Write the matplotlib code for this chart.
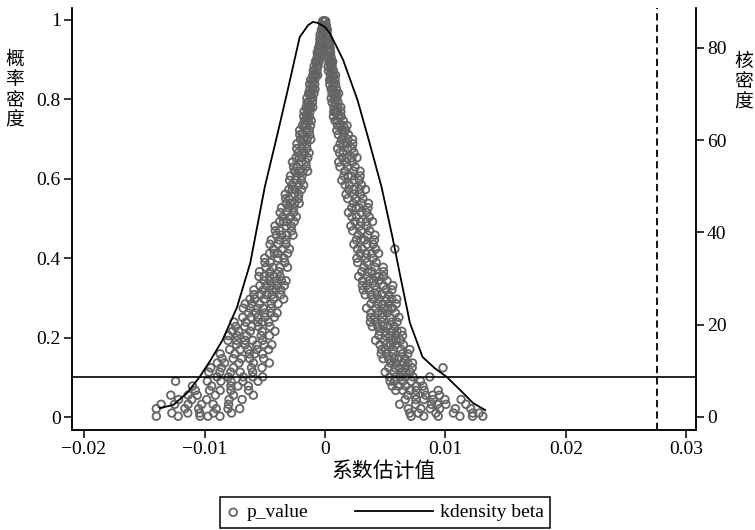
import numpy as np
import matplotlib
matplotlib.use('Agg')
import matplotlib.pyplot as plt
from matplotlib.lines import Line2D
from matplotlib.legend_handler import HandlerBase

plt.rcParams['font.family'] = ['Liberation Serif', 'Noto Sans CJK SC']
CJK = ['Noto Sans CJK SC', 'DejaVu Sans']

# placebo regressions: p-value of each estimate, grouped in thin p bands
# coefficient estimates are stored in units of 1e-4
p_band = [0.997, 0.986, 0.975, 0.963, 0.952, 0.941, 0.929, 0.918, 0.906, 0.895,
          0.883, 0.872, 0.861, 0.849, 0.838, 0.826, 0.815, 0.803, 0.792, 0.780,
          0.769, 0.757, 0.746, 0.734, 0.722, 0.711, 0.699, 0.688, 0.676, 0.665,
          0.653, 0.642, 0.630, 0.619, 0.607, 0.596, 0.584, 0.573, 0.561, 0.550,
          0.538, 0.527, 0.515, 0.504, 0.492, 0.481, 0.469, 0.458, 0.446, 0.435,
          0.423, 0.412, 0.400, 0.389, 0.377, 0.366, 0.354, 0.343, 0.331, 0.320,
          0.308, 0.297, 0.285, 0.274, 0.262, 0.251, 0.239, 0.228, 0.216, 0.205,
          0.193, 0.182, 0.170, 0.159, 0.147, 0.136, 0.124, 0.113, 0.101, 0.090,
          0.078, 0.067, 0.055, 0.044, 0.032, 0.021, 0.010, 0.002]

beta_left = [
    [-1.9, -1.2, -0.5], [-2.0, -1.2, -0.6], [-3.0, -2.0, -0.8, -2.5],
    [-4.0, -2.4, -1.6], [-3.6, -2.0, -4.2], [-2.1, -3.7, -4.4, -2.9],
    [-4.3, -3.4, -5.4], [-6.4, -5.3, -4.3], [-6.5, -4.9, -3.7],
    [-7.9, -6.5, -4.9, -7.1], [-9.0, -6.8, -5.8], [-8.8, -6.6, -9.6],
    [-6.1, -8.8, -10.0, -7.5], [-10.0, -8.5, -11.9], [-12.7, -10.6, -8.5],
    [-12.5, -10.1, -8.3], [-13.6, -11.5, -9.1, -12.4], [-15.0, -11.7, -10.2],
    [-13.7, -10.4, -14.9], [-10.2, -13.9, -15.6, -12.1], [-14.7, -12.6, -17.3],
    [-17.7, -15.2, -12.8], [-17.0, -13.8, -11.4], [-18.7, -15.5, -11.9, -16.9],
    [-21.0, -15.5, -13.0], [-18.7, -12.7, -20.9], [-11.8, -17.6, -20.3, -14.8],
    [-18.7, -15.1, -23.2], [-23.4, -19.2, -15.0], [-22.3, -17.1, -13.2],
    [-24.1, -19.5, -14.3, -21.5], [-27.0, -19.3, -15.8], [-23.3, -15.6, -26.1],
    [-14.4, -21.7, -25.2, -18.2], [-23.4, -19.2, -28.7], [-29.3, -24.4, -19.5],
    [-27.5, -21.9, -17.7], [-29.9, -25.0, -19.4, -27.1], [-33.0, -25.3, -21.8],
    [-29.8, -22.1, -32.6], [-21.4, -28.7, -32.2, -25.2], [-30.5, -26.0, -36.1],
    [-37.2, -31.6, -26.0], [-35.0, -28.6, -23.8], [-37.6, -32.0, -25.6, -34.4],
    [-41.5, -32.2, -27.9], [-37.6, -27.7, -41.2], [-26.5, -35.9, -40.4, -31.4],
    [-37.8, -32.4, -44.6], [-45.6, -38.9, -32.3], [-42.8, -35.2, -29.5],
    [-46.0, -39.0, -31.0, -42.0], [-50.0, -39.0, -34.0], [-45.4, -33.3, -49.8],
    [-31.1, -43.2, -48.9, -37.4], [-45.4, -38.2, -54.4],
    [-54.8, -46.0, -37.3, -42.3, -50.4], [-50.5, -40.1, -32.3, -46.0, -36.2],
    [-54.0, -44.5, -33.7, -48.6, -39.8], [-59.0, -43.6, -36.6, -51.3, -40.8],
    [-53.0, -36.5, -59.0, -44.0, -48.5], [-34.3, -50.6, -58.3, -42.8, -62.2],
    [-54.2, -44.6, -66.2, -39.0, -60.6], [-67.9, -56.3, -44.8, -51.4, -62.1],
    [-63.5, -49.9, -39.7, -57.6, -44.8], [-68.3, -56.0, -42.0, -61.3, -49.9],
    [-75.5, -55.7, -46.7, -65.6, -52.1], [-66.6, -45.7, -74.2, -55.2, -60.9],
    [-41.5, -62.0, -71.7, -52.2, -76.6], [-65.0, -53.0, -80.0, -46.0, -73.0],
    [-80.5, -66.1, -51.8, -60.0, -73.3], [-73.5, -56.7, -44.1, -66.2, -50.4],
    [-79.1, -64.0, -46.8, -70.5, -56.5], [-87.0, -62.8, -51.8, -74.9, -58.4],
    [-76.2, -50.9, -85.4, -62.4, -69.3], [-46.2, -71.4, -83.4, -59.4, -89.4],
    [-76.0, -61.0, -94.8, -52.3, -86.0], [-96.4, -78.2, -60.0, -70.4, -87.3],
    [-89.5, -67.9, -51.7, -80.1, -59.8], [-97.6, -78.0, -55.6, -86.4, -68.2, -124.0],
    [-110.0, -78.1, -63.6, -94.1, -72.3], [-95.8, -63.4, -107.6, -78.1, -87.0],
    [-59.5, -91.0, -106.0, -76.0, -113.5, -128.0], [-98.2, -79.6, -121.5, -68.8, -110.6],
    [-124.8, -102.4, -80.0, -92.8, -113.6, -136.0],
    [-116.3, -90.3, -70.8, -104.9, -80.5, -140.0],
    [-127.1, -104.0, -77.6, -113.9, -92.5], [-140.0, -103.7, -87.2, -121.9, -97.1],
]

beta_right = [
    [-1.0, 0.1, 0.6], [0.1, 1.2, -0.3], [2.0, 0.9, 0.4, 1.4], [1.3, 1.9, 0.6],
    [1.1, 1.8, 2.5], [2.5, 3.3, 3.9], [2.8, 3.5, 4.3, 3.2], [3.0, 4.1, 4.6],
    [3.4, 5.1, 2.8], [6.4, 4.3, 3.3, 5.3], [4.5, 6.0, 2.6], [2.8, 4.9, 7.0],
    [4.5, 6.9, 8.7], [3.9, 6.0, 8.4, 5.1], [4.0, 7.3, 8.8], [6.3, 9.6, 5.1],
    [11.3, 7.7, 5.9, 9.4], [7.8, 9.9, 5.2], [5.9, 8.3, 10.8], [7.5, 10.7, 13.1],
    [7.2, 10.0, 13.2, 8.8], [7.0, 11.4, 13.4], [10.2, 15.2, 8.4],
    [18.3, 13.0, 10.5, 15.5], [13.9, 17.2, 9.8], [11.1, 15.3, 19.5],
    [13.8, 19.0, 22.9], [12.6, 17.5, 23.1, 15.4], [10.5, 18.8, 22.5],
    [15.3, 24.1, 12.1], [26.6, 18.2, 14.2, 22.2], [17.8, 22.9, 11.4],
    [12.4, 18.7, 25.0], [16.5, 23.7, 29.1], [15.7, 22.0, 29.2, 19.3],
    [14.0, 23.9, 28.4], [20.4, 30.3, 16.8], [33.6, 24.1, 19.6, 28.6],
    [24.2, 29.6, 17.5], [18.9, 25.2, 31.5], [23.5, 30.7, 36.1],
    [22.2, 28.5, 35.7, 25.8], [19.5, 30.0, 34.7], [26.2, 36.7, 22.4],
    [39.5, 29.6, 24.8, 34.3], [29.0, 35.0, 21.5], [23.0, 30.0, 37.0],
    [27.5, 35.5, 41.5], [26.0, 33.0, 41.0, 30.0], [24.0, 35.0, 40.0],
    [31.0, 42.0, 27.0, 58.0], [44.5, 34.0, 29.0, 39.0], [34.0, 40.0, 26.5],
    [27.1, 34.8, 42.5], [32.3, 41.5, 48.4], [30.6, 39.0, 48.6, 35.4],
    [28.0, 42.3, 48.8, 35.2, 44.9], [36.6, 51.5, 31.2, 44.7, 40.7],
    [56.3, 41.6, 34.6, 48.6, 31.1], [42.2, 50.6, 31.7, 55.5, 36.6],
    [33.4, 43.2, 53.0, 47.4, 38.3], [40.0, 51.2, 59.6, 44.9, 55.4],
    [38.2, 48.0, 59.2, 43.8, 52.9], [34.5, 49.4, 56.1, 41.9, 52.1],
    [43.6, 58.5, 38.2, 51.7, 47.7], [61.4, 47.7, 41.2, 54.2, 38.0],
    [47.4, 55.2, 37.7, 59.8, 42.2], [39.3, 48.4, 57.5, 52.3, 43.9],
    [45.5, 55.9, 63.7, 50.1, 59.8], [44.9, 54.0, 64.4, 50.1, 58.6],
    [42.0, 56.3, 62.8, 49.2, 58.9], [50.8, 65.1, 45.6, 58.6, 54.7],
    [70.4, 56.7, 50.2, 63.2, 47.0], [56.4, 64.2, 46.7, 68.8, 51.2],
    [48.3, 57.4, 66.5, 61.3, 52.9], [54.5, 64.9, 72.7, 59.1, 68.8],
    [52.9, 62.0, 72.4, 58.1, 66.6, 98.0], [50.0, 64.3, 70.8, 57.2, 66.9],
    [58.8, 73.1, 53.6, 66.6, 62.7, 87.0], [79.3, 64.6, 57.6, 71.6, 54.1],
    [67.0, 76.0, 55.8, 81.3, 61.0], [58.7, 70.6, 82.5, 75.7, 64.7, 94.0],
    [68.5, 83.7, 95.1, 75.2, 89.4], [66.6, 82.0, 99.6, 75.4, 89.7, 113.0],
    [62.0, 88.4, 100.4, 75.2, 93.2, 117.0], [79.6, 108.2, 69.2, 95.2, 87.4, 121.0],
    [122.6, 92.1, 77.6, 106.6, 70.4, 128.0], [94.0, 112.0, 71.5, 122.5, 82.0, 131.0],
]

# kernel density of the placebo coefficients (x1000) on the right axis
kd_beta = [-13.7, -12.6, -11.45, -10.4, -9.5, -8.5, -7.3, -6.2, -5.0, -4.0,
           -3.15, -2.1, -1.4, -1.0, -0.6, 0.0, 0.4, 1.5, 2.7, 3.7, 4.7, 5.6,
           6.2, 7.05, 8.1, 9.1, 10.1, 11.2, 12.3, 13.3]
kd_dens = [1.95, 2.6, 5.2, 8.7, 12.3, 16.7, 23.8, 33.4, 49.8, 60.7,
           70.2, 82.3, 84.9, 85.6, 85.4, 84.5, 83.2, 77.4, 68.7, 59.4, 49.8, 39.0,
           31.2, 20.4, 13.0, 10.6, 8.7, 5.9, 3.0, 1.5]

true_beta = 0.02755   # baseline estimate
p_cut = 0.1

x_ticks = [-0.02, -0.01, 0, 0.01, 0.02, 0.03]
x_labels = ['\u22120.02', '\u22120.01', '0', '0.01', '0.02', '0.03']
p_ticks = [0, 0.2, 0.4, 0.6, 0.8, 1]
p_labels = ['0', '0.2', '0.4', '0.6', '0.8', '1']
kd_ticks = [0, 20, 40, 60, 80]


class LongLineHandler(HandlerBase):
    """Legend line that reaches back into the column gap."""
    def create_artists(self, legend, orig_handle, xdescent, ydescent,
                       width, height, fontsize, trans):
        y = height / 2 - ydescent
        ln = Line2D([-xdescent - 3.3 * fontsize, -xdescent + width], [y, y],
                    color=orig_handle.get_color(), lw=orig_handle.get_linewidth())
        ln.set_transform(trans)
        return [ln]


bx, py = [], []
for rows in (beta_left, beta_right):
    for p, xs in zip(p_band, rows):
        bx += xs
        py += [p] * len(xs)
bx = np.array(bx) / 1e4

fig = plt.figure(figsize=(7.55, 5.30), dpi=100)
ax = fig.add_axes([72 / 755, 1 - 430 / 530, 624 / 755, 422 / 530])
ax2 = ax.twinx()

sc = ax.scatter(bx, py, s=30, facecolors='none', edgecolors='#646464',
                linewidths=1.3, zorder=2, label='p_value')
ax.axhline(p_cut, color='black', lw=1.2, zorder=3)
ax.axvline(true_beta, color='black', lw=1.3, ls=(0, (4, 2.3)), zorder=3)

kd, = ax2.plot(np.array(kd_beta) / 1000, kd_dens, color='black', lw=1.3,
               label='kdensity beta')

ax.set_xlim(-0.0210, 0.0308)
ax.set_ylim(-0.0327, 1.030)
ax2.set_ylim(-2.817, 88.62)

ax.set_xticks(x_ticks)
ax.set_xticklabels(x_labels)
ax.set_yticks(p_ticks)
ax.set_yticklabels(p_labels)
ax2.set_yticks(kd_ticks)

for a in (ax, ax2):
    a.spines['top'].set_visible(False)
    for s in a.spines.values():
        s.set_linewidth(1.1)
    a.tick_params(length=6, width=1.1, labelsize=14, pad=2)

ax.set_xlabel('系数估计值', fontsize=15, family=CJK, labelpad=1)

fig.text(15 / 755, 1 - 90 / 530, '概\n率\n密\n度', fontsize=13.5, family=CJK,
         ha='center', va='center', linespacing=0.95)
fig.text(744 / 755, 1 - 82 / 530, '核\n密\n度', fontsize=13.5, family=CJK,
         ha='center', va='center', linespacing=0.95)

leg = fig.legend([sc, kd], ['p_value', 'kdensity beta'], ncol=2,
                 loc='upper center', bbox_to_anchor=(385 / 755, 1 - 497 / 530),
                 fontsize=14, handlelength=0.7, handletextpad=0.35,
                 columnspacing=5.7, borderpad=0.35, borderaxespad=0,
                 fancybox=False, edgecolor='black', framealpha=1,
                 handler_map={Line2D: LongLineHandler()})
leg.get_frame().set_linewidth(1.1)

fig.savefig('out.png', dpi=100)
